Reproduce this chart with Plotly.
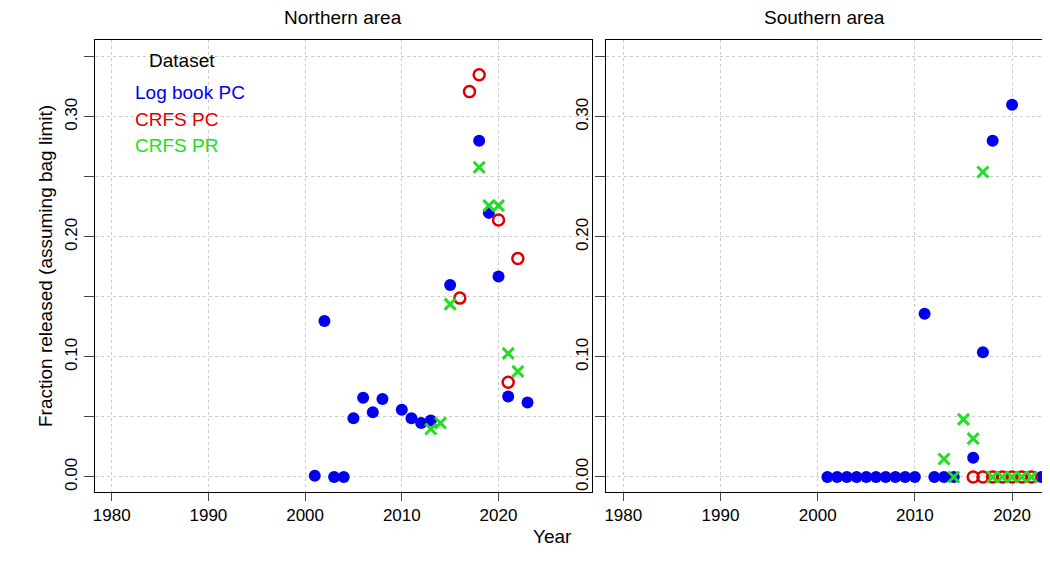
import plotly.graph_objects as go

# Northern area
n_lb_x = [2001, 2002, 2003, 2004, 2005, 2006, 2007, 2008, 2010, 2011, 2012, 2013, 2015, 2018, 2019, 2020, 2021, 2023]
n_lb_y = [0.001, 0.130, 0.0, 0.0, 0.049, 0.066, 0.054, 0.065, 0.056, 0.049, 0.045, 0.047, 0.160, 0.280, 0.220, 0.167, 0.067, 0.062]
n_pc_x = [2016, 2017, 2018, 2020, 2021, 2022]
n_pc_y = [0.149, 0.321, 0.335, 0.214, 0.079, 0.182]
n_pr_x = [2013, 2014, 2015, 2018, 2019, 2020, 2021, 2022]
n_pr_y = [0.040, 0.045, 0.144, 0.258, 0.226, 0.226, 0.103, 0.088]
# Southern area
s_lb_x = [2001, 2002, 2003, 2004, 2005, 2006, 2007, 2008, 2009, 2010, 2011, 2012, 2013, 2014, 2016, 2017, 2018, 2020, 2023]
s_lb_y = [0, 0, 0, 0, 0, 0, 0, 0, 0, 0, 0.136, 0, 0, 0, 0.016, 0.104, 0.280, 0.310, 0]
s_pc_x = [2016, 2017, 2018, 2019, 2020, 2021, 2022]
s_pc_y = [0, 0, 0, 0, 0, 0, 0]
s_pr_x = [2013, 2014, 2015, 2016, 2017, 2018, 2019, 2020, 2021, 2022]
s_pr_y = [0.015, 0, 0.048, 0.032, 0.254, 0, 0, 0, 0, 0]

BLUE, RED, GREEN = "#0000EE", "#DD0000", "#22DD22"
W, H, OFF = 1042, 563, 8
def px(v): return (v - OFF) / W
def py(v): return 1 - (v - OFF) / H

fig = go.Figure()
def add(x, y, kind, ax):
    xa, ya = ("x", "y") if ax == 1 else ("x2", "y2")
    if kind == "lb":
        m = dict(symbol="circle", size=12, color=BLUE)
    elif kind == "pc":
        m = dict(symbol="circle-open", size=11, color=RED, line=dict(width=2.5, color=RED))
    else:
        m = dict(symbol="x-thin-open", size=11, color=GREEN, line=dict(width=3, color=GREEN))
    fig.add_trace(go.Scatter(x=x, y=y, mode="markers", marker=m, xaxis=xa, yaxis=ya, showlegend=False))

for ax, data in [(1, [(n_lb_x, n_lb_y, "lb"), (n_pc_x, n_pc_y, "pc"), (n_pr_x, n_pr_y, "pr")]),
                 (2, [(s_lb_x, s_lb_y, "lb"), (s_pc_x, s_pc_y, "pc"), (s_pr_x, s_pr_y, "pr")])]:
    for x, y, k in data:
        add(x, y, k, ax)

xt = [1980, 1990, 2000, 2010, 2020]
yt = [0.0, 0.05, 0.10, 0.15, 0.20, 0.25, 0.30, 0.35]
ytt = ["0.00", "", "0.10", "", "0.20", "", "0.30", ""]
common_x = dict(tickvals=xt, ticks="outside", ticklen=8, showline=True, mirror=True, linecolor="black",
                showgrid=True, gridcolor="#cccccc", griddash="dot", zeroline=False,
                tickfont=dict(size=17, color="black"))
common_y = dict(tickvals=yt, ticktext=ytt, ticks="outside", ticklen=10, showline=True, mirror=True, linecolor="black",
                showgrid=True, gridcolor="#cccccc", griddash="dot", zeroline=False, tickangle=-90,
                tickfont=dict(size=17, color="black"), range=[-0.0125, 0.364])
def ann(text, x, y, color="black", xanchor="center"):
    return dict(text=text, x=px(x), y=py(y), xref="paper", yref="paper", showarrow=False,
                xanchor=xanchor, yanchor="middle", font=dict(size=19, color=color))
fig.update_layout(
    width=W, height=H, margin=dict(l=0, r=0, t=0, b=0),
    plot_bgcolor="white", paper_bgcolor="white",
    font=dict(family="Liberation Sans, Arial", color="black"),
    xaxis=dict(domain=[px(93), px(592)], range=[1978.25, 2029.7], **common_x),
    yaxis=dict(domain=[py(492), py(40)], title=dict(text="Fraction released (assuming bag limit)", font=dict(size=19), standoff=4), **common_y),
    xaxis2=dict(domain=[px(606), 1.0], range=[1978.25, 2023.8], **common_x),
    yaxis2=dict(domain=[py(492), py(40)], anchor="x2", **common_y),
    annotations=[
        ann("Northern area", 342, 18), ann("Southern area", 825, 18), ann("Year", 552, 536),
        ann("Dataset", 145, 60, xanchor="left"),
        ann("Log book PC", 131, 93, BLUE, "left"),
        ann("CRFS PC", 131, 119, RED, "left"),
        ann("CRFS PR", 131, 145, GREEN, "left"),
    ],
)
fig.write_html("out.html")
